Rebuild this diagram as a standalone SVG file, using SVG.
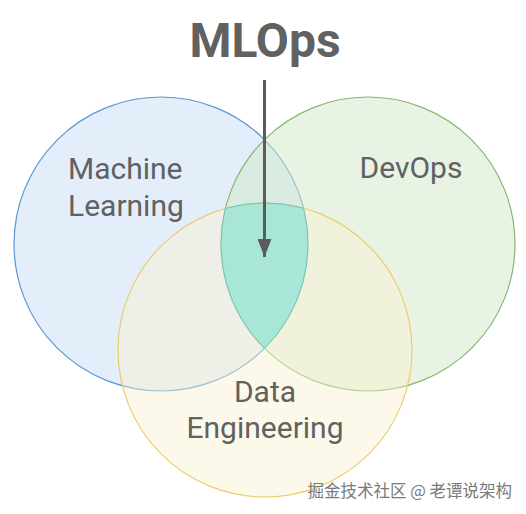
<svg xmlns="http://www.w3.org/2000/svg" width="526" height="514" viewBox="0 0 526 514">
<style>
.lbl{font-family:Roboto,"Liberation Sans",sans-serif;font-size:30px;fill:#616161}
.title{font-family:Roboto,"Liberation Sans",sans-serif;font-size:48px;font-weight:bold;fill:#616161}
.wm{font-family:"Noto Sans CJK SC","Liberation Sans",sans-serif;font-size:16.5px;fill:#7a7a7a}
</style>
<defs>
<marker id="ah" viewBox="0 0 18 14" refX="18" refY="7" markerWidth="18" markerHeight="14" markerUnits="userSpaceOnUse" orient="auto">
<path d="M0,0 L18,7 L0,14 Z" fill="#5a5a5f"/>
</marker>
</defs>
<rect width="526" height="514" fill="#ffffff"/>
<g id="ml"><circle cx="161" cy="244" r="147" fill="rgb(199,221,245)" fill-opacity="0.5" stroke="#5b97d3" stroke-width="1.2"/></g>
<g id="devops"><circle cx="368" cy="244" r="147" fill="rgb(209,231,201)" fill-opacity="0.5" stroke="#86b873" stroke-width="1.2"/></g>
<g id="de"><circle cx="265" cy="350" r="147" fill="rgb(251,241,209)" fill-opacity="0.45" stroke="#eccc6e" stroke-width="1.2"/></g>
<g id="mlops-region"><path d="M225.3,208.4 A147,147 0 0 1 303.6,208.2 A147,147 0 0 1 264.5,348.4 A147,147 0 0 1 225.3,208.4 Z" fill="#a8e6d7" stroke="#74c3b1" stroke-width="1"/></g>
<g id="labels">
<text class="lbl" x="68" y="179">Machine</text>
<text class="lbl" x="68" y="216">Learning</text>
<text class="lbl" x="411" y="178" text-anchor="middle">DevOps</text>
<text class="lbl" x="265" y="402" text-anchor="middle">Data</text>
<text class="lbl" x="265" y="438" text-anchor="middle">Engineering</text>
</g>
<g id="mlops"><text class="title" x="265" y="57" text-anchor="middle">MLOps</text></g>
<g id="connectors"><line x1="264.5" y1="80" x2="264.5" y2="257" stroke="#5a5a5f" stroke-width="3" marker-end="url(#ah)"/></g>
<text class="wm" x="512" y="497" text-anchor="end">掘金技术社区 @ 老谭说架构</text>
</svg>
